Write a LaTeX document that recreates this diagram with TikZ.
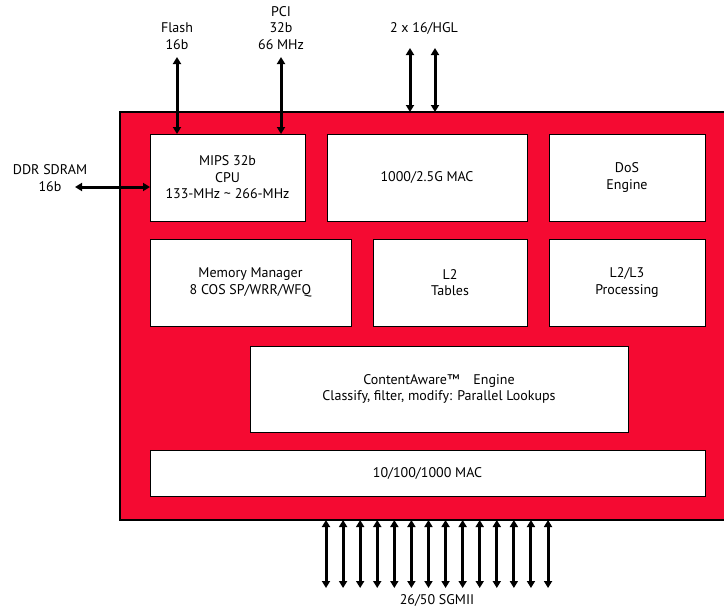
\documentclass[tikz,border=0pt]{standalone}
\usepackage{fontspec}
\setmainfont{PT Sans}
\usepackage{tikz}
\usetikzlibrary{arrows.meta, positioning}
\definecolor{chipred}{RGB}{245, 10, 50}
\newcommand{\chipfont}{\fontsize{14}{16.5}\selectfont}

\begin{document}
\begin{tikzpicture}[x=1pt, y=-1pt,
    chip/.style={rectangle, draw=black, line width=1.2pt, fill=chipred,
                 minimum width=620pt, minimum height=408pt, outer sep=0pt},
    box/.style={rectangle, draw=black, line width=0.9pt, fill=white,
                minimum height=87pt, align=center, font=\chipfont, outer sep=0pt},
    arrow/.style={{Triangle[width=8pt,length=7pt]}-{Triangle[width=8pt,length=7pt]},
                  line width=3pt},
    label/.style={font=\chipfont, align=center, inner sep=2pt},
]
\useasboundingbox (0,0) rectangle (724,608);
\clip (0,0) rectangle (724,608);

% Chip body
\node[chip] (chip) at (430,316) {};

% Top row
\node[box, minimum width=155pt, anchor=north west] (cpu) at (150,134)
    {MIPS 32b\\CPU\\133-MHz \textasciitilde{} 266-MHz};
\node[box, minimum width=200pt, right=22pt of cpu] (mac) {1000/2.5G MAC};
\node[box, minimum width=156pt, right=22pt of mac] (dos) {DoS\\Engine};

% Middle row
\node[box, minimum width=201pt, below right=18pt and 0pt of cpu.south west] (memmgr)
    {Memory Manager\\8 COS SP/WRR/WFQ};
\node[box, minimum width=154pt, right=22pt of memmgr] (ltwo) {L2\\Tables};
\node[box, minimum width=156pt, right=22pt of ltwo] (lthree) {L2/L3\\Processing};

% Lookup engine
\node[box, minimum width=378pt, minimum height=86pt, anchor=north west] (cae) at (250,346)
    {ContentAware\texttrademark\quad Engine\\Classify, filter, modify: Parallel Lookups};

% Port MAC
\node[box, minimum width=555pt, minimum height=46pt, anchor=north west] (gmac) at (150,450)
    {10/100/1000 MAC};

% External interfaces
\node[label] (flash) at (177,36) {Flash\\16b};
\node[label] (pci) at (281,28) {PCI\\32b\\66 MHz};
\node[label] (hgl) at (424,28) {2 x 16/HGL};
\node[label] (ddr) at (50,178) {DDR SDRAM\\16b};
\node[label] (sgmii) at (437,600) {26/50 SGMII};

\coordinate (flashend) at (177,57);
\coordinate (pciend) at (281,57);
\coordinate (hgla) at (410,48);
\coordinate (hglb) at (435,48);
\coordinate (ddrend) at (75,187);

% Arrows
\draw[arrow] (flashend) -- (flashend |- cpu.north);
\draw[arrow] (pciend) -- (pciend |- cpu.north);
\draw[arrow] (hgla) -- (hgla |- chip.north);
\draw[arrow] (hglb) -- (hglb |- chip.north);
\draw[arrow] (ddrend) -- (ddrend -| cpu.west);
\foreach \i in {0,...,13} {
    \coordinate (port\i) at (326+\i*17.08,588);
    \draw[arrow] (port\i) -- (port\i |- chip.south);
}

\end{tikzpicture}
\end{document}
